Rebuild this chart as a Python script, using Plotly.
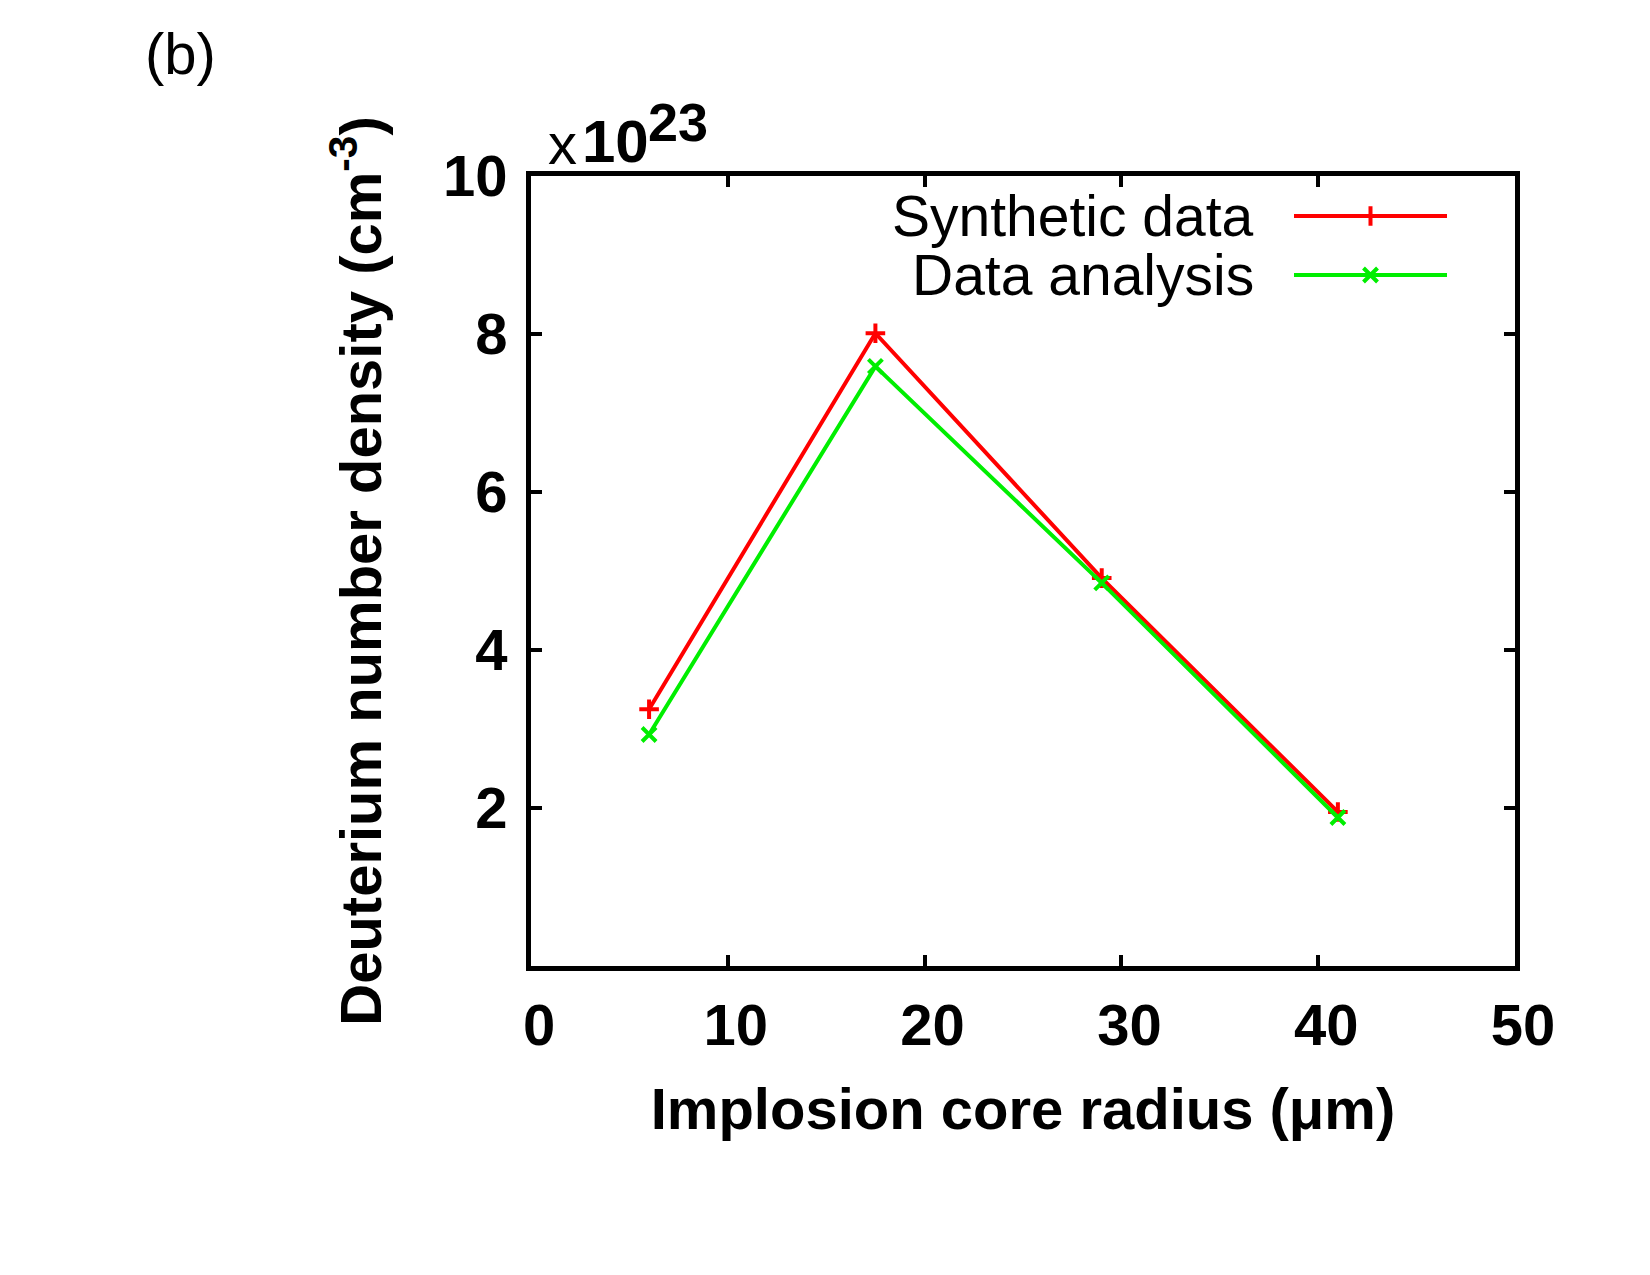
import plotly.graph_objects as go

# ---- data ----
radius = [6.0, 17.5, 29.0, 41.0]
synthetic = [3.25, 8.01, 4.91, 1.95]
analysis = [2.93, 7.59, 4.85, 1.88]
series_names = ["Synthetic data", "Data analysis"]
x_ticks = [0, 10, 20, 30, 40, 50]
y_ticks = [2, 4, 6, 8, 10]

W, H = 1650, 1275
L, R, T, B = 531, 1515, 176, 966
FONT = "Liberation Sans, Arial, sans-serif"

def px(x):
    return (x - L) / (R - L)

def py(y):
    return (B - y) / (B - T)

fig = go.Figure()
fig.add_trace(go.Scatter(x=radius, y=synthetic, mode="lines+markers",
                         line=dict(color="#ff0000", width=4),
                         marker=dict(symbol="cross-thin", size=14, line=dict(color="#ff0000", width=4)),
                         showlegend=False))
fig.add_trace(go.Scatter(x=radius, y=analysis, mode="lines+markers",
                         line=dict(color="#00ee00", width=4),
                         marker=dict(symbol="x-thin", size=14, line=dict(color="#00ee00", width=4)),
                         showlegend=False))

# legend keys on an overlay axis (0..1 over plot area)
key_x0, key_x1 = px(1294), px(1447)
for name, color, sym, yy in [(series_names[0], "#ff0000", "cross-thin", 216),
                             (series_names[1], "#00ee00", "x-thin", 275)]:
    fig.add_trace(go.Scatter(x=[key_x0, key_x1], y=[py(yy), py(yy)], mode="lines",
                             line=dict(color=color, width=4), xaxis="x2", yaxis="y2",
                             showlegend=False, hoverinfo="skip"))
    fig.add_trace(go.Scatter(x=[(key_x0 + key_x1) / 2], y=[py(yy)], mode="markers",
                             marker=dict(symbol=sym, size=14, line=dict(color=color, width=4)),
                             xaxis="x2", yaxis="y2", showlegend=False, hoverinfo="skip"))
    fig.add_annotation(x=px(1256), y=py(yy), xref="paper", yref="paper", text=name,
                       showarrow=False, xanchor="right", yanchor="middle",
                       font=dict(family=FONT, size=57, color="black"))

axis_common = dict(showline=True, linecolor="black", linewidth=5, mirror="allticks",
                   ticks="inside", ticklen=11, tickwidth=4, tickcolor="black",
                   showgrid=False, zeroline=False,
                   tickfont=dict(family=FONT, size=58, color="black", weight="bold"))

fig.update_layout(
    width=W, height=H,
    margin=dict(l=L, r=W - R, t=T, b=H - B),
    paper_bgcolor="white", plot_bgcolor="white",
    xaxis=dict(range=[0, 50], tickvals=x_ticks, ticklabelstandoff=4, ticklabelshift=8,
               title=dict(text="Implosion core radius (μm)", standoff=34,
                          font=dict(family=FONT, size=58, color="black", weight="bold")),
               **axis_common),
    yaxis=dict(range=[0, 10], tickvals=y_ticks, ticklabelstandoff=7,
               title=dict(text="Deuterium number density (cm<sup>-3</sup>)", standoff=44,
                          font=dict(family=FONT, size=58, color="black", weight="bold")),
               **axis_common),
    xaxis2=dict(range=[0, 1], overlaying="x", visible=False, fixedrange=True),
    yaxis2=dict(range=[0, 1], overlaying="y", visible=False, fixedrange=True),
)

# panel label and multiplier
fig.add_annotation(x=px(143), y=py(53), xref="paper", yref="paper", text="(b)",
                   showarrow=False, xanchor="left", yanchor="middle",
                   font=dict(family=FONT, size=58, color="black"))
fig.add_annotation(x=px(546), y=py(143), xref="paper", yref="paper", text="x",
                   showarrow=False, xanchor="left", yanchor="middle",
                   font=dict(family=FONT, size=58, color="black"))
fig.add_annotation(x=px(580), y=py(141), xref="paper", yref="paper", text="<b>10</b>",
                   showarrow=False, xanchor="left", yanchor="middle",
                   font=dict(family=FONT, size=60, color="black"))
fig.add_annotation(x=px(646), y=py(122), xref="paper", yref="paper", text="<b>23</b>",
                   showarrow=False, xanchor="left", yanchor="middle",
                   font=dict(family=FONT, size=54, color="black"))

fig.write_html("out.html")
